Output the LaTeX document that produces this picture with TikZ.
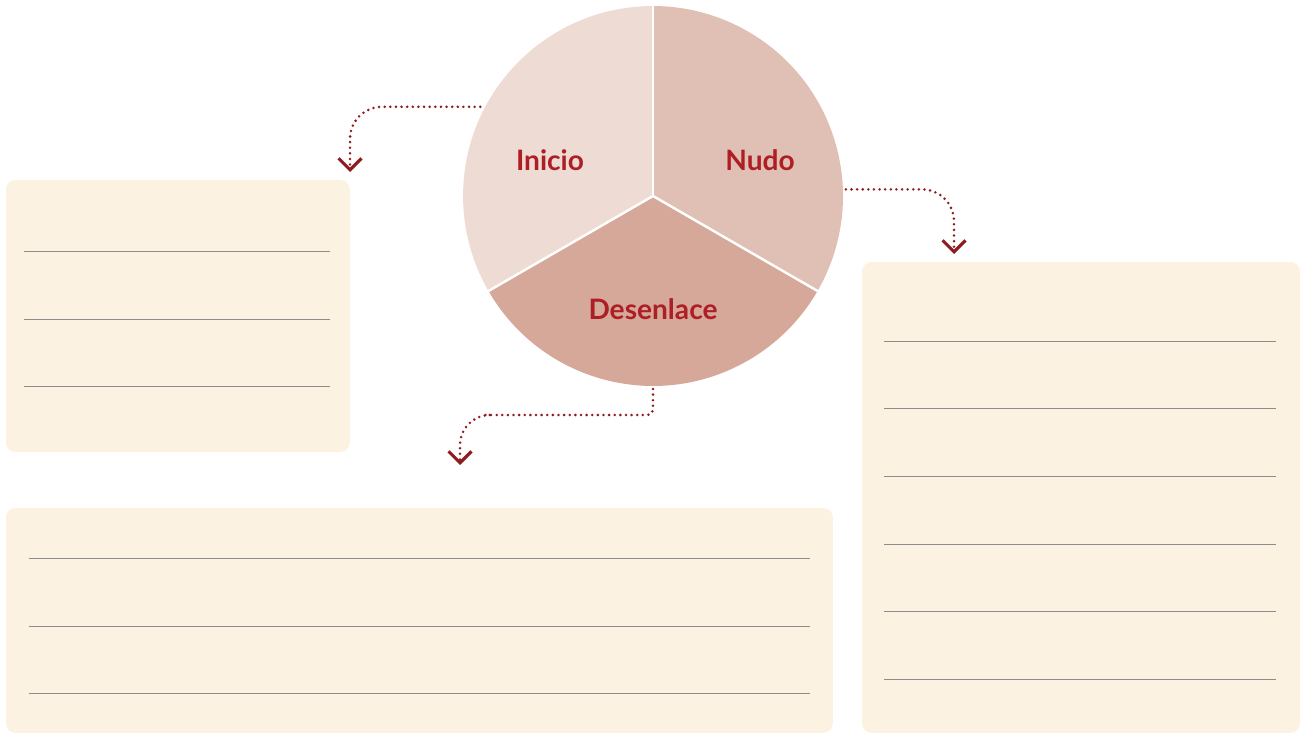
\documentclass[tikz,border=0pt]{standalone}
\usepackage{fontspec}
\setmainfont{Lato}
\usetikzlibrary{arrows.meta, positioning, calc}
\definecolor{partone}{HTML}{EEDBD4}
\definecolor{parttwo}{HTML}{E0C0B5}
\definecolor{partthree}{HTML}{D5A899}
\definecolor{partred}{HTML}{AE1E25}
\definecolor{arrowred}{HTML}{8E1B1E}
\definecolor{notecream}{HTML}{FBF2E1}
\definecolor{rulegrey}{HTML}{8C8C8C}
\tikzset{
  x={(0.02cm,0)}, y={(0,-0.02cm)},
  >={Straight Barb[length=6.5pt, width=13pt, line width=1.8pt]},
  note/.style={rectangle, rounded corners=5.5pt, fill=notecream, anchor=north west,
               inner sep=0pt, outer sep=0pt},
  lbl/.style={font=\fontsize{16}{19}\selectfont\bfseries, text=partred},
  rule/.style={draw=rulegrey, line width=0.5pt},
  cut/.style={draw=white, line width=1.4pt},
  flow/.style={->, draw=arrowred, line width=1.6pt, line cap=round,
               dash pattern=on 0pt off 3.2pt},
}
\begin{document}
\begin{tikzpicture}
  \useasboundingbox (0,0) rectangle (1301,733);
  \node[circle, minimum size=7.6cm, inner sep=0pt, outer sep=0pt] (pie) at (653,196) {};
  \fill[partone] (pie.center) -- (pie.90) arc[start angle=90, end angle=210, radius=3.8cm] -- cycle;
  \fill[partthree] (pie.center) -- (pie.210) arc[start angle=210, end angle=330, radius=3.8cm] -- cycle;
  \fill[parttwo] (pie.center) -- (pie.330) arc[start angle=-30, end angle=90, radius=3.8cm] -- cycle;
  \foreach \a in {90,210,330}
    \draw[cut] (pie.center) -- (pie.\a);
  \node[lbl] (inicio) at (550,160) {Inicio};
  \node[lbl] (nudo) at (760,160) {Nudo};
  \node[lbl] (desenlace) at (653,309) {Desenlace};

  \node[note, minimum width=6.88cm, minimum height=5.44cm] (boxinicio) at (6,180) {};
  \node[note, minimum width=8.76cm, minimum height=9.42cm] (boxnudo) at (862,262) {};
  \node[note, minimum width=16.54cm, minimum height=4.5cm] (boxdesenlace) at (6,508) {};
  \foreach \y in {251,319,386}
    \draw[rule] (24,\y) -- (330,\y);
  \foreach \y in {341,408,476,544,611,679}
    \draw[rule] (884,\y) -- (1276,\y);
  \foreach \y in {558,626,693}
    \draw[rule] (29,\y) -- (810,\y);

  \coordinate (tipinicio) at (350,172);
  \coordinate (tipnudo) at (954,254);
  \coordinate (tipdesenlace) at (460,465);
  \draw[flow, rounded corners=0.64cm] ([xshift=-0.1cm]pie.152) -| (tipinicio);
  \draw[flow, rounded corners=0.64cm] ([xshift=0.06cm]pie.2) -| (tipnudo);
  \draw[flow] ([yshift=-0.06cm]pie.south) [rounded corners=3pt] |- (490,415)
    [rounded corners=0.6cm] -| (tipdesenlace);
\end{tikzpicture}
\end{document}
